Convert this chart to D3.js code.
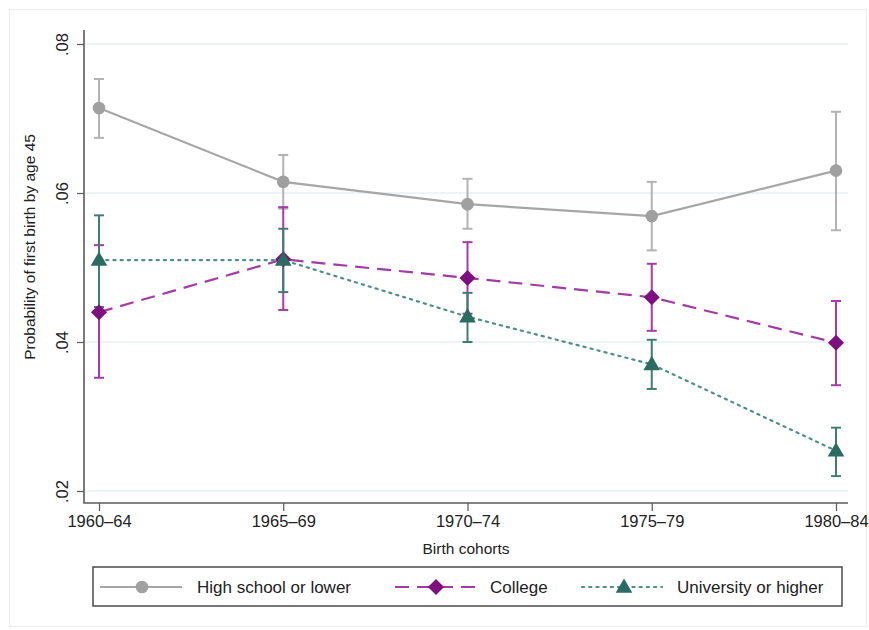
<!DOCTYPE html>
<html>
<head>
<meta charset="utf-8">
<script src="https://cdn.jsdelivr.net/npm/d3@7/dist/d3.min.js"></script>
<style>
  html, body { margin: 0; padding: 0; background: #fff; }
  svg { display: block; font-family: "Liberation Sans", Arial, Helvetica, sans-serif; }
</style>
</head>
<body>
<svg id="chart" width="869" height="630"></svg>
<script>
// ---- data ----
const cohorts = ["1960–64", "1965–69", "1970–74", "1975–79", "1980–84"];
const yTicks = [0.02, 0.04, 0.06, 0.08];
const yTickLabels = [".02", ".04", ".06", ".08"];

const highSchool    = [0.0714, 0.0615, 0.0585, 0.0569, 0.0630];
const highSchoolLo  = [0.0674, 0.0579, 0.0552, 0.0523, 0.0550];
const highSchoolHi  = [0.0753, 0.0651, 0.0619, 0.0615, 0.0709];

const college       = [0.0440, 0.0511, 0.0486, 0.0460, 0.0399];
const collegeLo     = [0.0352, 0.0443, 0.0438, 0.0415, 0.0342];
const collegeHi     = [0.0530, 0.0581, 0.0534, 0.0505, 0.0455];

const university    = [0.0510, 0.0510, 0.0434, 0.0370, 0.0254];
const universityLo  = [0.0447, 0.0467, 0.0400, 0.0337, 0.0220];
const universityHi  = [0.0570, 0.0552, 0.0466, 0.0403, 0.0285];

const seriesNames = ["High school or lower", "College", "University or higher"];

// ---- setup ----
const svg = d3.select("#chart");
const axisX = 84, axisY = 503, plotRight = 848;

const x = d3.scalePoint().domain(cohorts).range([99, 836]);
const y = d3.scaleLinear().domain([0.02, 0.08]).range([491, 44]);

const styles = [
  { line: "#a6a6a6", bar: "#b3b3b3", marker: "#a0a0a0", dash: null, shape: d3.symbolCircle, size: 125 },
  { line: "#a23ba6", bar: "#a83aa8", marker: "#7d0f7f", dash: "14,8", shape: d3.symbolDiamond2, size: 165 },
  { line: "#4f8f86", bar: "#3f7d74", marker: "#2a6c62", dash: "2.2,5", shape: d3.symbolTriangle, size: 120 }
];

// outer graph region frame
svg.append("rect").attr("x", 9.5).attr("y", 9.5).attr("width", 857).attr("height", 617)
  .attr("fill", "none").attr("stroke", "#e9edf1").attr("stroke-width", 1);

// gridlines
svg.append("g").selectAll("line").data(yTicks).join("line")
  .attr("x1", axisX + 1).attr("x2", plotRight)
  .attr("y1", d => y(d)).attr("y2", d => y(d))
  .attr("stroke", "#e6f0f2").attr("stroke-width", 1.5);

// axes
const yAxis = d3.axisLeft(y).tickValues(yTicks).tickFormat((d, i) => yTickLabels[i]).tickSize(7).tickPadding(4);
const gy = svg.append("g").attr("transform", `translate(${axisX},0)`).call(yAxis);
gy.select(".domain").attr("d", `M0,30V${axisY}`).attr("stroke", "#5a5a5a").attr("stroke-width", 1.6);
gy.selectAll(".tick line").attr("stroke", "#5a5a5a").attr("stroke-width", 1.2);
gy.selectAll(".tick text")
  .attr("fill", "#222").attr("font-size", 16.5)
  .attr("text-anchor", "middle").attr("dy", null)
  .attr("transform", `translate(-20,0) rotate(-90)`)
  .attr("x", 0).attr("y", 0).attr("dominant-baseline", "middle");

const xAxis = d3.axisBottom(x).tickSize(8).tickPadding(4);
const gx = svg.append("g").attr("transform", `translate(0,${axisY})`).call(xAxis);
gx.select(".domain").attr("d", `M${axisX - 0.8},0H${plotRight}`).attr("stroke", "#5a5a5a").attr("stroke-width", 1.6);
gx.selectAll(".tick line").attr("stroke", "#5a5a5a").attr("stroke-width", 1.2);
gx.selectAll(".tick text").attr("fill", "#222").attr("font-size", 16.5).attr("dy", "0.75em").attr("y", 12);

// axis titles
svg.append("text").attr("x", (axisX + plotRight) / 2).attr("y", 554)
  .attr("text-anchor", "middle").attr("font-size", 15.5).attr("fill", "#222").text("Birth cohorts");
svg.append("text").attr("transform", `translate(35,247) rotate(-90)`)
  .attr("text-anchor", "middle").attr("font-size", 15.5).attr("fill", "#222")
  .text("Probability of first birth by age 45");

// series
const data = [
  { v: highSchool, lo: highSchoolLo, hi: highSchoolHi },
  { v: college, lo: collegeLo, hi: collegeHi },
  { v: university, lo: universityLo, hi: universityHi }
];

const lineGen = d3.line().x((d, i) => x(cohorts[i])).y(d => y(d));
const capW = 5;

data.forEach((s, k) => {
  const st = styles[k];
  const g = svg.append("g");
  cohorts.forEach((c, i) => {
    const cx = x(c);
    g.append("line").attr("x1", cx).attr("x2", cx).attr("y1", y(s.lo[i])).attr("y2", y(s.hi[i]))
      .attr("stroke", st.bar).attr("stroke-width", 2);
    [s.lo[i], s.hi[i]].forEach(v => {
      g.append("line").attr("x1", cx - capW).attr("x2", cx + capW).attr("y1", y(v)).attr("y2", y(v))
        .attr("stroke", st.bar).attr("stroke-width", 2);
    });
  });
});

data.forEach((s, k) => {
  const st = styles[k];
  const g = svg.append("g");
  g.append("path").datum(s.v).attr("d", lineGen)
    .attr("fill", "none").attr("stroke", st.line).attr("stroke-width", 2.2)
    .attr("stroke-dasharray", st.dash).attr("stroke-linecap", k === 2 ? "round" : "butt");
  g.selectAll("path.m").data(s.v).join("path").attr("class", "m")
    .attr("d", d3.symbol().type(st.shape).size(st.size))
    .attr("transform", (d, i) => `translate(${x(cohorts[i])},${y(d) + (k === 2 ? 1 : 0)})`)
    .attr("fill", st.marker);
});

// legend
const leg = svg.append("g");
leg.append("rect").attr("x", 93).attr("y", 567).attr("width", 749).attr("height", 39)
  .attr("fill", "#fff").attr("stroke", "#4a4a4a").attr("stroke-width", 1.5);
const legItems = [
  { x1: 100, x2: 182, mx: 142, tx: 197 },
  { x1: 395, x2: 477, mx: 436, tx: 490 },
  { x1: 582, x2: 662, mx: 624, tx: 677 }
];
legItems.forEach((it, k) => {
  const st = styles[k];
  leg.append("line").attr("x1", it.x1).attr("x2", it.x2).attr("y1", 587).attr("y2", 587)
    .attr("stroke", st.line).attr("stroke-width", 2.2).attr("stroke-dasharray", st.dash)
    .attr("stroke-linecap", k === 2 ? "round" : "butt");
  leg.append("path").attr("d", d3.symbol().type(st.shape).size(st.size))
    .attr("transform", `translate(${it.mx},${587 + (k === 2 ? 1 : 0)})`).attr("fill", st.marker);
  leg.append("text").attr("x", it.tx).attr("y", 587).attr("dy", "0.35em")
    .attr("font-size", 17).attr("fill", "#222").text(seriesNames[k]);
});
</script>
</body>
</html>
